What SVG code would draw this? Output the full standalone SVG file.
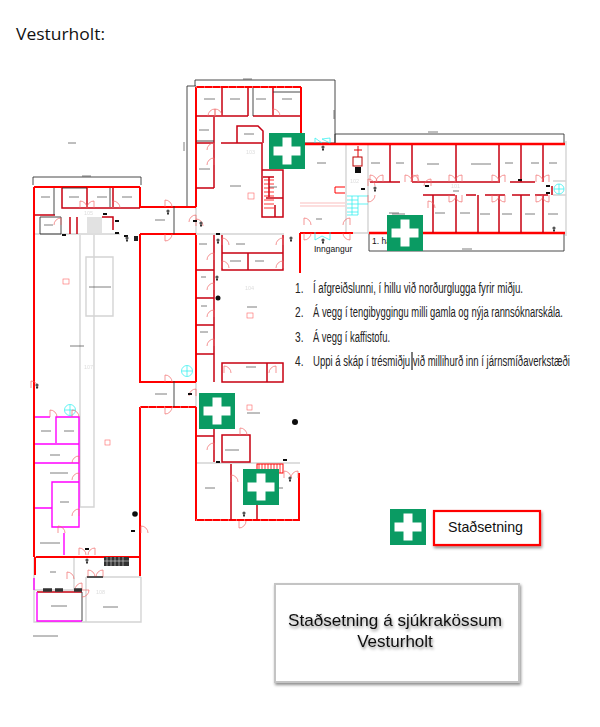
<svg xmlns="http://www.w3.org/2000/svg" xmlns:xlink="http://www.w3.org/1999/xlink" width="600" height="727" viewBox="0 0 600 727">
<style>
text{font-family:"Liberation Sans",Arial,sans-serif;fill:#111}
.r{fill:none;stroke:#f00;stroke-width:2}
.rt{fill:none;stroke:#f00;stroke-width:2.600}
.dr{fill:none;stroke:#c80014;stroke-width:1.500}
.m{fill:none;stroke:#f0f;stroke-width:1.400}
.g{fill:none;stroke:#d4d4d4;stroke-width:1.400}
.k{fill:none;stroke:#333;stroke-width:.9}
.c{fill:none;stroke:#2ee;stroke-width:.7}
.mt{fill:none;stroke:#333;stroke-width:.9;stroke-dasharray:.7 .3}
.door{fill:none;stroke:#f06a6a;stroke-width:.7}
.num{fill:#ddd;font-size:5.500px}
.list{font-size:14.500px;fill:#222}
.bl{fill:#111}
.cross{fill:#fff}
.gb{fill:#0a9b63}
</style>
<defs>
<filter id="soft" x="-5%" y="-5%" width="110%" height="110%"><feGaussianBlur stdDeviation="0.3"/></filter>
<filter id="shadow" x="-10%" y="-20%" width="120%" height="150%"><feDropShadow dx="1" dy="2" stdDeviation="1.500" flood-color="#000" flood-opacity=".45"/></filter>
<g id="aid"><rect class="gb" width="36" height="36"/><path class="cross" d="M13.500 4.500h9v9h9v9h-9v9h-9v-9h-9v-9h9z"/></g>
<path id="d" d="M0 0V-7A7 7 0 0 1 7 0" class="door"/>
<g id="sm"><circle r="1.600" fill="#555"/><rect x="-1" y="1.500" width="2" height="2" fill="#333"/></g>
<rect id="bk" x="-2" y="-1" width="4" height="2" fill="#111"/>
</defs>

<text id="title" x="16" y="40" font-size="17" textLength="89" lengthAdjust="spacingAndGlyphs" style="font-family:'Open Sans','Liberation Sans',sans-serif">Vesturholt:</text>

<g id="plan" filter="url(#soft)">
<g id="dimensions">
<path class="k" d="M33 185V177H141V185M187 206V86H196M195 86V80H335V143H300M335 144V134H564V144M369 233V251H564V233"/>
<path class="mt" d="M82 176h9M243 79h9M428 132h10M462 249h10M184 142v9M334 110v9"/>
</g>
<g id="grey-walls">
<path class="g" d="M196 207V234M34 234H120M196 234H284M196 382V407M34 557H140M196 463H300M346 144V233M368 144V233M353 233H369M566 141V236M553 181H566V195H553"/>
<path class="g" d="M80 235V507H94V235M86 257H113V316H86Z"/>
<path class="g" stroke-width="2" d="M34 558V622H141V577M86 577H141M86 577V622M74 557V590M34 590H82"/>
<rect x="87" y="217" width="15" height="16" fill="#e2e2e2"/>
</g>
<g id="red-walls">
<path class="rt" d="M300 144H565M369 233H565"/>
<path class="r" d="M34 187H140M34 187V557M140 187V207H196M140 234H196M140 234V382H196M140 407H196M140 407V557M140 557H36M140 557V576M196 87H301M196 87V207M196 235V382M196 407V520H300M299 473V520M300 233V273M301 87V143M300 233H353M35 557V575"/>
<path class="dr" d="M222 88V116M196 116H222M222 116H248M253 116H300M248 88V116M273 88V116M196 143H214M214 117V147M214 147V188M196 188H214M221 143H262M237 143V126H258L263 131V143M262 143V217H283V170H262"/>
<path class="dr" d="M263 177H274M269 177V197M266 198H283M275 205V217"/>
<path class="dr" d="M214 235V382M222 235V270H283V235M222 253H283M248 253V270M196 270H214M196 298H214M196 325H214M196 354H214M222 363H283V382H222ZM267 363V382"/>
<path class="dr" d="M62 188V208H140M87 188V208M113 188V207M35 215H55M70 217V234M77 217V234M102 217H113V230"/>
<path class="dr" d="M214 429V462M197 436H214M231 464V520M257 505V519M222 435H250V462H222ZM37 592H82"/>
<path d="M345 187H335V193H345" fill="none" stroke="#f00" stroke-width="1"/>
<path d="M300 203H345M300 206H345" fill="none" stroke="#f8a0a0" stroke-width=".7"/>
<path class="dr" d="M390 145V182M412 145V182M456 145V182M499 145V182M521 145V182M543 145V182M370 182H400M412 182H500M510 182H535M433 195V233M456 195V233M478 195V233M499 195V233M521 195V233M543 195V233"/>
<path class="dr" d="M423 195H455M466 195H476M485 195H505M512 195H530M535 195H548M552 186V195"/>
<rect x="257" y="464" width="26" height="9" fill="none" stroke="#f00" stroke-width="1"/>
<path d="M259 464v9M262 464v9M265 464v9M268 464v9M271 464v9M274 464v9M277 464v9M280 464v9" stroke="#f00" stroke-width=".8"/>
<path d="M264 180h10M264 184h10M264 188h10M264 192h10M264 196h10M264 200h10M264 204h10M264 208h10" stroke="#f00" stroke-width=".8"/>
<path d="M196 520H300M140 407H196M196 87H300" stroke="#fff" stroke-width=".7" stroke-dasharray="1 7" fill="none"/>
</g>
<g id="magenta-walls">
<path class="m" d="M35 417H50M56 443V417H79V527H52V482H79M35 444H79M35 463H79M35 508H52M64 533V555M37 592V621H82M34 578V590"/>
</g>
<g id="black-walls">
<path class="k" stroke-width="1.100" d="M54 188V215M40 217H61V234H40ZM62 188H87M110 188V207M174 206V234M174 381V407M253 88V116M196 141H214M273 92H300M82 592V621M87 577H103"/>
</g>
<g id="stairs-cyan">
<path class="c" d="M347 196H368M347 200H358M347 204H368M347 208H358M347 212H358M347 215H358M352 196V215M358 196V215"/>
<circle class="c" cx="559" cy="189" r="5"/><circle class="c" cx="187" cy="371" r="5.500"/><circle class="c" cx="70" cy="410" r="5.500"/>
<path class="c" d="M559 184V194M554 189H564M187 366V376M182 371H192M70 405V415M65 410H75M315 138V143M330 138V143L322 139ZM315 138L322 143M315 232V240L322 236L330 240V232"/>
</g>
<g id="doors">
<use xlink:href="#d" transform="translate(215,116)"/><use xlink:href="#d" transform="translate(273,116)"/><use xlink:href="#d" transform="translate(215,116) scale(-1,1)"/>
<use xlink:href="#d" transform="translate(214,150) scale(-1,1)"/><use xlink:href="#d" transform="translate(214,165) scale(-1,1)"/>
<use xlink:href="#d" transform="translate(196,226)"/><use xlink:href="#d" transform="translate(196,222) scale(-1,1)"/>
<use xlink:href="#d" transform="translate(61,225) scale(-1,1)"/><use xlink:href="#d" transform="translate(80,208)"/><use xlink:href="#d" transform="translate(94,208) scale(-1,1)"/><use xlink:href="#d" transform="translate(113,208)"/>
<use xlink:href="#d" transform="translate(214,260) scale(-1,1)"/><use xlink:href="#d" transform="translate(214,290) scale(-1,1)"/><use xlink:href="#d" transform="translate(214,317) scale(-1,1)"/><use xlink:href="#d" transform="translate(214,346) scale(-1,1)"/><use xlink:href="#d" transform="translate(214,450) scale(-1,1)"/>
<use xlink:href="#d" transform="translate(222,245)"/><use xlink:href="#d" transform="translate(222,268)"/><use xlink:href="#d" transform="translate(283,245) scale(-1,1)"/><use xlink:href="#d" transform="translate(283,268) scale(-1,1)"/><use xlink:href="#d" transform="translate(276,373) scale(-1,1)"/><use xlink:href="#d" transform="translate(224,373)"/>
<use xlink:href="#d" transform="translate(165,207)"/><use xlink:href="#d" transform="translate(165,234) scale(1,-1)"/>
<use xlink:href="#d" transform="translate(165,382)"/><use xlink:href="#d" transform="translate(165,407) scale(1,-1)"/>
<use xlink:href="#d" transform="translate(196,396) scale(-1,1)"/>
<use xlink:href="#d" transform="translate(240,435)"/><use xlink:href="#d" transform="translate(231,482)"/><use xlink:href="#d" transform="translate(239,521) scale(1,-1)"/>
<use xlink:href="#d" transform="translate(284,478)"/><use xlink:href="#d" transform="translate(298,478) scale(-1,1)"/>
<use xlink:href="#d" transform="translate(50,417)"/><use xlink:href="#d" transform="translate(72,417)"/><use xlink:href="#d" transform="translate(79,463) scale(-1,1)"/><use xlink:href="#d" transform="translate(79,480) scale(-1,1)"/><use xlink:href="#d" transform="translate(79,516) scale(-1,1)"/><use xlink:href="#d" transform="translate(58,533)"/>
<use xlink:href="#d" transform="translate(31,388)"/><use xlink:href="#d" transform="translate(141,533)"/>
<use xlink:href="#d" transform="translate(79,555)"/><use xlink:href="#d" transform="translate(95,555) scale(-1,1)"/>
<use xlink:href="#d" transform="translate(88,577)"/><use xlink:href="#d" transform="translate(103,577) scale(-1,1)"/>
<use xlink:href="#d" transform="translate(67,579)"/><use xlink:href="#d" transform="translate(82,590) rotate(90)"/><use xlink:href="#d" transform="translate(82,590) scale(-1,1)"/>
<use xlink:href="#d" transform="translate(370,182)"/><use xlink:href="#d" transform="translate(383,182) scale(-1,1)"/><use xlink:href="#d" transform="translate(412,182)"/><use xlink:href="#d" transform="translate(405,182)"/><use xlink:href="#d" transform="translate(418,182) scale(-1,1)"/><use xlink:href="#d" transform="translate(449,182)"/><use xlink:href="#d" transform="translate(462,182) scale(-1,1)"/><use xlink:href="#d" transform="translate(492,182)"/><use xlink:href="#d" transform="translate(505,182) scale(-1,1)"/><use xlink:href="#d" transform="translate(536,182)"/><use xlink:href="#d" transform="translate(549,182) scale(-1,1)"/>
<use xlink:href="#d" transform="translate(449,195) scale(1,-1)"/><use xlink:href="#d" transform="translate(462,195) scale(-1,-1)"/><use xlink:href="#d" transform="translate(492,195) scale(1,-1)"/><use xlink:href="#d" transform="translate(505,195) scale(-1,-1)"/><use xlink:href="#d" transform="translate(536,195) scale(1,-1)"/><use xlink:href="#d" transform="translate(549,195) scale(-1,-1)"/>
<use xlink:href="#d" transform="translate(428,208)"/><use xlink:href="#d" transform="translate(431,186) scale(-1,1)"/>
<use xlink:href="#d" transform="translate(368,186)"/><use xlink:href="#d" transform="translate(368,195) scale(1,-1)"/>
<use xlink:href="#d" transform="translate(304,225)"/><use xlink:href="#d" transform="translate(350,225) scale(-1,1)"/><use xlink:href="#d" transform="translate(350,233) scale(-1,-1)"/><use xlink:href="#d" transform="translate(304,233) scale(1,-1)"/>
</g>
<g id="symbols">
<use xlink:href="#bk" x="105" y="214"/><use xlink:href="#bk" x="117" y="221"/><use xlink:href="#bk" x="117" y="233"/><use xlink:href="#bk" x="195" y="221"/><use xlink:href="#bk" x="218" y="234"/><use xlink:href="#bk" x="64" y="235"/><use xlink:href="#bk" x="126" y="236"/>
<use xlink:href="#bk" x="190" y="394"/><use xlink:href="#bk" x="218" y="462"/><use xlink:href="#bk" x="285" y="460"/><use xlink:href="#bk" x="87" y="549"/><use xlink:href="#bk" x="363" y="189"/><use xlink:href="#bk" x="427" y="186"/><use xlink:href="#bk" x="548" y="186"/><use xlink:href="#bk" x="548" y="193"/><use xlink:href="#bk" x="520" y="180"/><use xlink:href="#bk" x="133" y="531"/>
<use xlink:href="#sm" x="168" y="211"/><use xlink:href="#sm" x="201" y="223"/><use xlink:href="#sm" x="127" y="238"/><use xlink:href="#sm" x="218" y="240"/><use xlink:href="#sm" x="217" y="277"/><use xlink:href="#sm" x="291" y="238"/><use xlink:href="#sm" x="323" y="147"/><use xlink:href="#sm" x="323" y="240"/><use xlink:href="#sm" x="375" y="188"/><use xlink:href="#sm" x="554" y="228"/><use xlink:href="#sm" x="244" y="513"/><use xlink:href="#sm" x="290" y="478"/><use xlink:href="#sm" x="37" y="385"/><use xlink:href="#sm" x="87" y="560"/>
<circle class="bl" cx="218" cy="298" r="2.500"/><circle class="bl" cx="295" cy="422" r="3"/><circle class="bl" cx="135" cy="514" r="2.800"/>
<rect x="134" y="236" width="4" height="5" fill="#222"/>
<rect x="353" y="157" width="9" height="9" fill="#fff" stroke="#b00" stroke-width="1"/>
<path d="M358 146V157M354 150h8" stroke="#d00" fill="none"/><rect x="355" y="167" width="6" height="6" fill="#111"/>
<rect x="104" y="557" width="25" height="9" fill="#333"/><path d="M107 557v9M111 557v9M115 557v9M119 557v9M123 557v9M104 561h25" stroke="#ddd" stroke-width=".6"/>
<path d="M43 590h9M55 590h8M74 590h8" stroke="#333" stroke-width="3.500" fill="none"/>
<path d="M87 577H103" stroke="#111" stroke-width="1"/>
<rect x="248" y="193" width="6" height="6" fill="#fff" stroke="#f66" stroke-width=".6"/><rect x="63" y="279" width="6" height="5" fill="#fff" stroke="#f66" stroke-width=".6"/><rect x="105" y="440" width="5" height="5" fill="#fff" stroke="#f66" stroke-width=".6"/><rect x="247" y="313" width="6" height="5" fill="#fff" stroke="#f66" stroke-width=".6"/><rect x="247" y="405" width="5" height="5" fill="#fff" stroke="#f66" stroke-width=".6"/>
</g>
<g id="illegible-labels">
<path class="mt" d="M204 99h11M230 99h10M256 99h10M282 99h10M199 130h10M244 134h10M199 169h11M230 186h11M269 187h8M41 197h9M69 197h10M97 197h10M122 197h10M44 225h9M155 220h10M199 244h8M236 244h9M230 261h11M255 261h9M201 277h5M247 307h10M201 306h6M200 332h8M89 287h22M70 346h14M155 394h12M247 413h13M225 450h14M205 488h10M245 488h6M278 488h5M41 431h10M64 431h10M50 455h10M50 473h18M60 502h9M40 543h20M50 572h6M51 606h16M103 607h15M33 636h25M246 367h10M68 143h8"/>
<path class="mt" d="M371 163h9M396 163h8M427 164h12M471 164h20M505 163h8M531 163h8M549 163h8M389 213h10M435 213h10M460 213h10M480 214h10M502 214h10M525 214h10M548 214h10M392 214h13M317 163h9M316 219h6M453 191h6"/>
</g>
<g id="room-numbers">
<text class="num" x="246" y="154">103</text><text class="num" x="245" y="290">104</text><text class="num" x="84" y="215">105</text><text class="num" x="84" y="369">107</text><text class="num" x="96" y="594">108</text><text class="num" x="350" y="183">102</text><text class="num" x="451" y="188">101</text>
</g>
</g>

<g id="entrance-labels">
<text x="372" y="244" font-size="8.500">1. hæð</text>
<text x="314" y="252" font-size="8.500">Inngangur</text>
</g>

<g id="aid-boxes">
<use id="aid-1" xlink:href="#aid" x="269" y="133"/>
<use id="aid-2" xlink:href="#aid" x="387" y="215"/>
<use id="aid-3" xlink:href="#aid" x="199" y="393"/>
<use id="aid-4" xlink:href="#aid" x="243" y="469"/>
</g>

<g id="list">
<text class="list" transform="translate(295,293) scale(.7,1)">1.</text><text class="list" transform="translate(313,293) scale(.7,1)" textLength="300" lengthAdjust="spacingAndGlyphs">Í afgreiðslunni, í hillu við norðurglugga fyrir miðju.</text>
<text class="list" transform="translate(295,317) scale(.7,1)">2.</text><text class="list" transform="translate(313,317) scale(.7,1)" textLength="357" lengthAdjust="spacingAndGlyphs">Á vegg í tengibyggingu milli gamla og nýja rannsóknarskála.</text>
<text class="list" transform="translate(295,342) scale(.7,1)">3.</text><text class="list" transform="translate(313,342) scale(.7,1)" textLength="110" lengthAdjust="spacingAndGlyphs">Á vegg í kaffistofu.</text>
<text class="list" transform="translate(295,366) scale(.7,1)">4.</text><text class="list" transform="translate(313,366) scale(.7,1)" textLength="367" lengthAdjust="spacingAndGlyphs">Uppi á skáp í trésmiðju við millihurð inn í járnsmíðaverkstæði</text>
<path d="M412 352V370" stroke="#222" stroke-width="1.200"/>
</g>

<g id="legend">
<use xlink:href="#aid" x="390" y="509"/>
<rect x="434" y="511" width="106" height="34" fill="#fff" stroke="#f00" stroke-width="2.200" filter="url(#shadow)"/>
<text x="448" y="532" font-size="14.500" textLength="75" lengthAdjust="spacingAndGlyphs">Staðsetning</text>
</g>

<g id="title-box">
<rect x="275" y="584" width="244" height="98" fill="#fff" stroke="#c4c4c4" stroke-width="2" filter="url(#shadow)"/>
<g filter="url(#shadow)">
<text x="288" y="626" font-size="17" textLength="214" lengthAdjust="spacingAndGlyphs">Staðsetning á sjúkrakössum</text>
<text x="395" y="647" font-size="17" text-anchor="middle">Vesturholt</text>
</g>
</g>
</svg>
